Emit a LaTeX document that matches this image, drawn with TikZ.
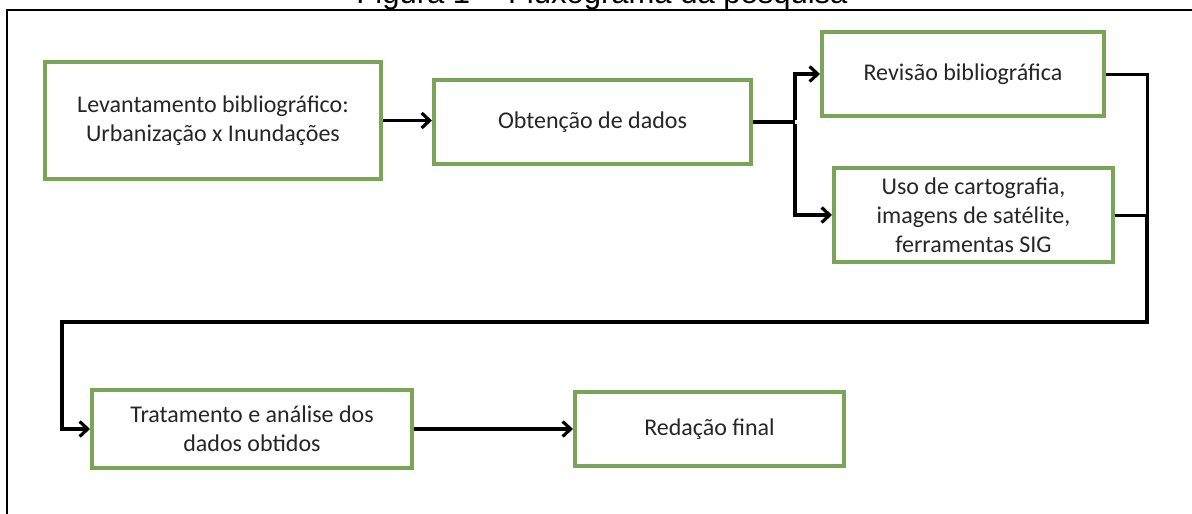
\documentclass[tikz,border=0pt]{standalone}
\usepackage{fontspec}
\setmainfont{Carlito}
\newfontfamily\arialfont{Liberation Sans}
\usetikzlibrary{arrows.meta}
\definecolor{boxgreen}{RGB}{122,164,86}
\definecolor{txt}{RGB}{38,38,38}
\tikzset{
  box/.style={draw=boxgreen, line width=4pt, fill=white, align=center, inner sep=0pt,
    text=txt, font=\fontsize{24}{29}\selectfont},
  arr/.style={line width=3.2pt, -{Straight Barb[length=8pt,width=15pt,line width=3.2pt]}},
  thinline/.style={line width=3pt},
  thickline/.style={line width=4.5pt},
}
\begin{document}
\begin{tikzpicture}[x=1pt,y=-1pt]
\useasboundingbox (0,0) rectangle (1192,514);
\fill[white] (0,0) rectangle (1192,514);
% frame
\draw[line width=1.6pt] (7,514) -- (7,10) -- (1192,10);
% title (cut off at top)
\node[anchor=base, inner sep=0pt, font=\arialfont\fontsize{31}{37}\selectfont] (title) at (602,4) {Figura 1 -- Fluxograma da pesquisa};
% boxes
\node[box, minimum width=336pt, minimum height=117pt] (lev) at (213,120.5) {Levantamento bibliográfico:\\Urbanização x Inundações};
\node[box, minimum width=317pt, minimum height=84pt] (obt) at (592.5,122) {Obtenção de dados};
\node[box, minimum width=282pt, minimum height=84pt] (rev) at (963,74) {Revisão bibliográfica};
\node[box, minimum width=279pt, minimum height=94pt] (uso) at (973.5,215) {Uso de cartografia,\\imagens de satélite,\\ferramentas SIG};
\node[box, minimum width=320pt, minimum height=78pt] (trat) at (252,429) {Tratamento e análise dos\\dados obtidos};
\node[box, minimum width=269pt, minimum height=74pt] (red) at (709.5,429) {Redação final};
% connectors
\coordinate (sp) at (795,122);
\coordinate (rj) at (1147,215);
\coordinate (rc) at (1147,322);
\coordinate (lc) at (62,322);
\draw[arr] (lev.east) -- (lev.east -| obt.west);
\draw[thickline] (obt.east) -- (sp);
\draw[arr] ([yshift=2pt]sp) |- (rev.west);
\draw[arr] ([yshift=-2pt]sp) |- (uso.west);
\draw[thinline] (rev.east) -| (rj);
\draw[thinline] (uso.east) -- (rj);
\draw[thickline, line join=miter] (rj) -- (rc) -- (lc) -- (lc |- trat.west) -- ([xshift=-10pt]trat.west);
\draw[arr] ([xshift=-26pt]trat.west) -- (trat.west);
\draw[arr] (trat.east) -- (red.west);
\end{tikzpicture}
\end{document}
